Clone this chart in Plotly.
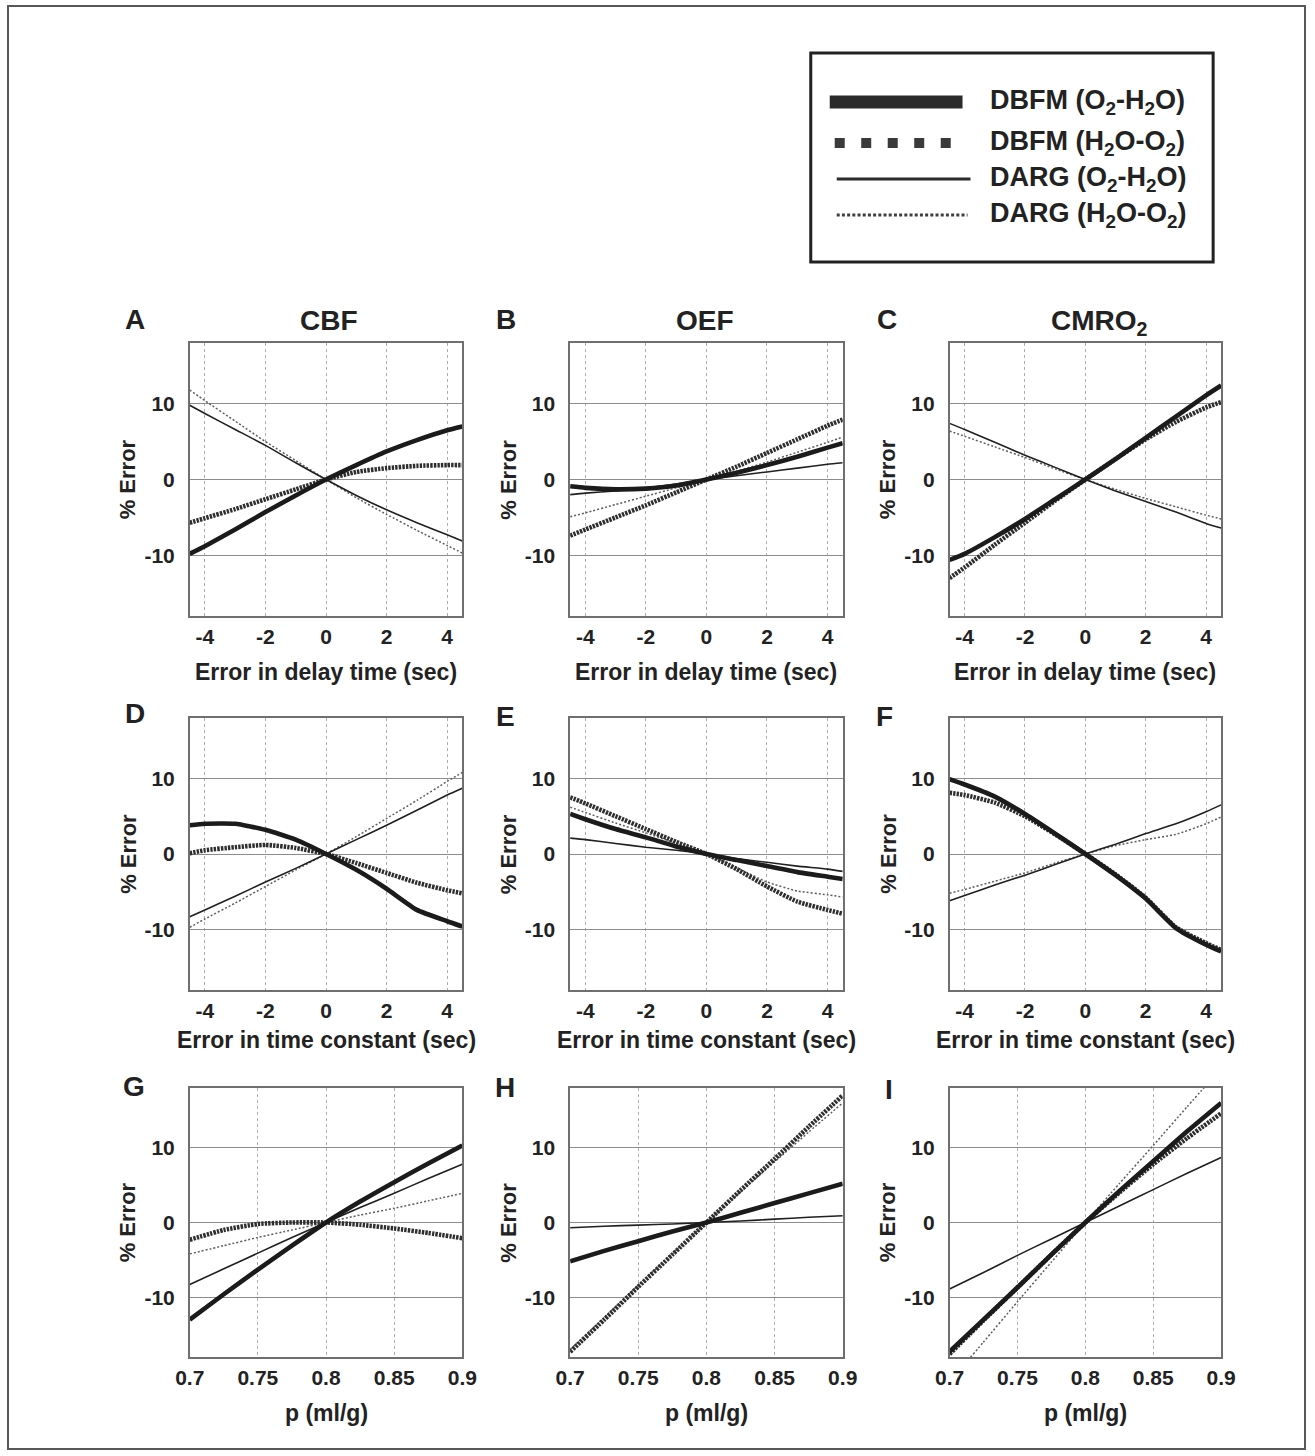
import plotly.graph_objects as go

# ---- x values -------------------------------------------------------------
delay_err = [-4.5, -4, -3, -2, -1, 0, 1, 2, 3, 4, 4.5]      # sec
tconst_err = [-4.5, -4, -3, -2, -1, 0, 1, 2, 3, 4, 4.5]     # sec
p_vals = [0.7, 0.725, 0.75, 0.775, 0.8, 0.825, 0.85, 0.875, 0.9]  # ml/g

# ---- % error, row 1: error in delay time ----------------------------------
cbf_delay_dbfm_o2h2o = [-9.8, -8.8, -6.6, -4.3, -2.1, 0, 1.9, 3.7, 5.2, 6.5, 7.0]
cbf_delay_dbfm_h2oo2 = [-5.7, -5.1, -3.9, -2.6, -1.3, 0, 1.0, 1.5, 1.8, 1.9, 1.9]
cbf_delay_darg_o2h2o = [9.8, 8.7, 6.6, 4.5, 2.2, 0, -2.1, -4.0, -5.7, -7.3, -8.1]
cbf_delay_darg_h2oo2 = [11.8, 10.4, 7.7, 5.0, 2.5, 0, -2.4, -4.6, -6.7, -8.7, -9.7]

oef_delay_dbfm_o2h2o = [-0.9, -1.1, -1.3, -1.2, -0.8, 0, 0.9, 1.9, 3.0, 4.2, 4.8]
oef_delay_dbfm_h2oo2 = [-7.4, -6.6, -5.0, -3.4, -1.7, 0, 1.7, 3.5, 5.3, 7.1, 7.9]
oef_delay_darg_o2h2o = [-2.0, -1.8, -1.5, -1.1, -0.6, 0, 0.5, 1.0, 1.5, 2.0, 2.2]
oef_delay_darg_h2oo2 = [-4.9, -4.4, -3.3, -2.2, -1.1, 0, 1.1, 2.3, 3.6, 4.9, 5.6]

cmr_delay_dbfm_o2h2o = [-10.6, -9.8, -7.6, -5.2, -2.6, 0, 2.7, 5.5, 8.3, 11.1, 12.4]
cmr_delay_dbfm_h2oo2 = [-13.0, -11.6, -8.6, -5.7, -2.8, 0, 2.7, 5.3, 7.6, 9.5, 10.2]
cmr_delay_darg_o2h2o = [7.4, 6.6, 4.9, 3.2, 1.6, 0, -1.5, -2.9, -4.3, -5.8, -6.4]
cmr_delay_darg_h2oo2 = [6.4, 5.7, 4.3, 2.9, 1.4, 0, -1.3, -2.5, -3.6, -4.7, -5.2]

# ---- % error, row 2: error in time constant -------------------------------
cbf_tc_dbfm_o2h2o = [3.8, 4.0, 4.0, 3.2, 1.9, 0, -2.1, -4.6, -7.4, -8.9, -9.6]
cbf_tc_dbfm_h2oo2 = [0.1, 0.5, 0.9, 1.2, 0.8, 0, -1.2, -2.5, -3.8, -4.8, -5.2]
cbf_tc_darg_o2h2o = [-8.3, -7.4, -5.6, -3.7, -1.9, 0, 1.9, 3.8, 5.8, 7.8, 8.7]
cbf_tc_darg_h2oo2 = [-9.7, -8.6, -6.5, -4.3, -2.1, 0, 2.3, 4.7, 7.1, 9.6, 10.8]

oef_tc_dbfm_o2h2o = [5.3, 4.6, 3.3, 2.2, 1.0, 0, -0.8, -1.6, -2.4, -3.0, -3.3]
oef_tc_dbfm_h2oo2 = [7.5, 6.7, 5.0, 3.3, 1.6, 0, -2.0, -4.3, -6.3, -7.4, -7.9]
oef_tc_darg_o2h2o = [2.1, 1.9, 1.4, 0.9, 0.5, 0, -0.6, -1.1, -1.6, -2.0, -2.3]
oef_tc_darg_h2oo2 = [6.2, 5.5, 4.1, 2.8, 1.4, 0, -1.8, -3.7, -4.9, -5.4, -5.7]

cmr_tc_dbfm_o2h2o = [9.9, 9.2, 7.6, 5.3, 2.7, 0, -2.8, -5.9, -9.8, -12.0, -12.9]
cmr_tc_dbfm_h2oo2 = [8.1, 7.8, 6.8, 5.0, 2.6, 0, -2.7, -5.8, -9.7, -11.8, -12.7]
cmr_tc_darg_o2h2o = [-6.2, -5.5, -4.1, -2.8, -1.4, 0, 1.3, 2.7, 4.0, 5.6, 6.5]
cmr_tc_darg_h2oo2 = [-5.2, -4.7, -3.6, -2.5, -1.2, 0, 1.1, 1.9, 2.6, 4.0, 4.9]

# ---- % error, row 3: partition coefficient p ------------------------------
cbf_p_dbfm_o2h2o = [-13.0, -9.6, -6.3, -3.1, 0, 2.8, 5.4, 7.9, 10.3]
cbf_p_dbfm_h2oo2 = [-2.3, -1.0, -0.2, 0.0, 0, -0.3, -0.8, -1.4, -2.1]
cbf_p_darg_o2h2o = [-8.3, -6.2, -4.1, -2.0, 0, 2.0, 3.9, 5.9, 7.8]
cbf_p_darg_h2oo2 = [-4.2, -3.1, -2.0, -1.0, 0, 1.0, 1.9, 2.9, 3.9]

oef_p_dbfm_o2h2o = [-5.2, -3.8, -2.5, -1.2, 0, 1.3, 2.6, 3.9, 5.2]
oef_p_dbfm_h2oo2 = [-17.3, -13.0, -8.6, -4.3, 0, 4.3, 8.5, 12.8, 17.0]
oef_p_darg_o2h2o = [-0.7, -0.5, -0.35, -0.2, 0, 0.2, 0.45, 0.7, 0.9]
oef_p_darg_h2oo2 = [-17.0, -12.7, -8.4, -4.2, 0, 4.1, 8.1, 12.1, 16.0]

cmr_p_dbfm_o2h2o = [-17.3, -13.0, -8.7, -4.3, 0, 4.2, 8.2, 12.2, 16.0]
cmr_p_dbfm_h2oo2 = [-17.6, -13.1, -8.7, -4.3, 0, 4.0, 7.8, 11.3, 14.6]
cmr_p_darg_o2h2o = [-8.9, -6.7, -4.4, -2.2, 0, 2.2, 4.4, 6.6, 8.7]
cmr_p_darg_h2oo2 = [-21.3, -16.0, -10.6, -5.3, 0, 5.2, 10.3, 15.5, 20.6]

# ---- labels ---------------------------------------------------------------
series_names = ["DBFM (O<sub>2</sub>-H<sub>2</sub>O)", "DBFM (H<sub>2</sub>O-O<sub>2</sub>)",
                "DARG (O<sub>2</sub>-H<sub>2</sub>O)", "DARG (H<sub>2</sub>O-O<sub>2</sub>)"]
column_titles = ["CBF", "OEF", "CMRO<sub>2</sub>"]
panel_letters = ["A", "B", "C", "D", "E", "F", "G", "H", "I"]
row_xtitles = ["Error in delay time (sec)", "Error in time constant (sec)", "p (ml/g)"]
y_title = "% Error"
err_ticks = [-4, -2, 0, 2, 4]
p_ticks = [0.7, 0.75, 0.8, 0.85, 0.9]
p_ticktext = ["0.7", "0.75", "0.8", "0.85", "0.9"]
y_ticks = [-10, 0, 10]

panels = [
    (delay_err, [cbf_delay_dbfm_o2h2o, cbf_delay_dbfm_h2oo2, cbf_delay_darg_o2h2o, cbf_delay_darg_h2oo2]),
    (delay_err, [oef_delay_dbfm_o2h2o, oef_delay_dbfm_h2oo2, oef_delay_darg_o2h2o, oef_delay_darg_h2oo2]),
    (delay_err, [cmr_delay_dbfm_o2h2o, cmr_delay_dbfm_h2oo2, cmr_delay_darg_o2h2o, cmr_delay_darg_h2oo2]),
    (tconst_err, [cbf_tc_dbfm_o2h2o, cbf_tc_dbfm_h2oo2, cbf_tc_darg_o2h2o, cbf_tc_darg_h2oo2]),
    (tconst_err, [oef_tc_dbfm_o2h2o, oef_tc_dbfm_h2oo2, oef_tc_darg_o2h2o, oef_tc_darg_h2oo2]),
    (tconst_err, [cmr_tc_dbfm_o2h2o, cmr_tc_dbfm_h2oo2, cmr_tc_darg_o2h2o, cmr_tc_darg_h2oo2]),
    (p_vals, [cbf_p_dbfm_o2h2o, cbf_p_dbfm_h2oo2, cbf_p_darg_o2h2o, cbf_p_darg_h2oo2]),
    (p_vals, [oef_p_dbfm_o2h2o, oef_p_dbfm_h2oo2, oef_p_darg_o2h2o, oef_p_darg_h2oo2]),
    (p_vals, [cmr_p_dbfm_o2h2o, cmr_p_dbfm_h2oo2, cmr_p_darg_o2h2o, cmr_p_darg_h2oo2]),
]

# ---- page geometry (pixels) -----------------------------------------------
W, H = 1315, 1456
X_SPREAD = 1 / 0.9787   # horizontal spread of the layout about the page centre
FONT = "Liberation Sans, Arial, Helvetica, sans-serif"
INK = "#222222"
col_px = [(189, 462), (570, 843), (950, 1222)]
row_px = [(343, 616), (718, 990), (1088, 1357)]


def fx(px):
    cx = W / 2
    return (cx + (px - cx) * X_SPREAD) / W


def fy(py):
    return 1 - py / H


# line style per series: (color, width, dash); drawn in this order
line_styles = [
    ("#1b1b1b", 4.6, "solid"),
    ("#2e2e2e", 4.6, "2.4px,1.1px"),
    ("#202020", 1.6, "solid"),
    ("#5e5e5e", 1.5, "2px,2px"),
]
draw_order = [3, 1, 2, 0]

fig = go.Figure()
layout_axes = {}
annotations = []

for k, (xs, ys) in enumerate(panels):
    r, c = divmod(k, 3)
    n = k + 1
    xa = "x" if n == 1 else f"x{n}"
    ya = "y" if n == 1 else f"y{n}"
    for s in draw_order:
        color, width, dash = line_styles[s]
        fig.add_trace(go.Scatter(
            x=xs, y=ys[s], mode="lines", name=series_names[s],
            line=dict(color=color, width=width, dash=dash, shape="spline", smoothing=0.5),
            xaxis=xa, yaxis=ya, showlegend=False, hoverinfo="skip",
        ))

    x0, x1 = col_px[c]
    y0, y1 = row_px[r]
    axis_common = dict(
        showline=True, mirror=True, linecolor="#6f6f6f", linewidth=1.5,
        zeroline=False, ticks="", showgrid=True,
        tickfont=dict(family=FONT, size=21, color=INK, weight="bold"),
    )
    if r < 2:
        xextra = dict(range=[-4.5, 4.5], tickvals=err_ticks, ticktext=[str(t) for t in err_ticks])
    else:
        xextra = dict(range=[0.7, 0.9], tickvals=p_ticks, ticktext=p_ticktext)
    layout_axes["xaxis" if n == 1 else f"xaxis{n}"] = dict(
        domain=[fx(x0), fx(x1)], anchor=ya, gridcolor="#acacac", gridwidth=1,
        griddash="dot", ticklabelstandoff=1, **xextra, **axis_common)
    layout_axes["yaxis" if n == 1 else f"yaxis{n}"] = dict(
        domain=[fy(y1), fy(y0)], anchor=xa, range=[-18, 18], tickvals=y_ticks,
        ticktext=[str(t) for t in y_ticks], gridcolor="#8c8c8c", gridwidth=1.2,
        ticklabelstandoff=9, **axis_common)

    # y-axis title
    annotations.append(dict(
        text=f"<b>{y_title}</b>", xref="paper", yref="paper",
        x=fx(x0 - 62), y=fy((y0 + y1) / 2), textangle=-90, showarrow=False,
        xanchor="center", yanchor="middle", font=dict(family=FONT, size=22, color=INK)))
    # x-axis title
    xt_off = [56, 50, 56][r]
    annotations.append(dict(
        text=f"<b>{row_xtitles[r]}</b>", xref="paper", yref="paper",
        x=fx((x0 + x1) / 2), y=fy(y1 + xt_off), showarrow=False,
        xanchor="center", yanchor="middle", font=dict(family=FONT, size=23, color=INK)))

# panel letters
letter_pos = [(134, 319), (506, 319), (887, 319),
              (134, 713), (505, 716), (885, 716),
              (133, 1086), (505, 1087), (889, 1089)]
for letter, (lx, ly) in zip(panel_letters, letter_pos):
    annotations.append(dict(
        text=f"<b>{letter}</b>", xref="paper", yref="paper", x=fx(lx), y=fy(ly),
        showarrow=False, xanchor="center", yanchor="middle",
        font=dict(family=FONT, size=28, color=INK)))

# column titles
title_pos = [(328, 320), (705, 320), (1100, 322)]
for title, (tx, ty) in zip(column_titles, title_pos):
    annotations.append(dict(
        text=f"<b>{title}</b>", xref="paper", yref="paper", x=fx(tx), y=fy(ty),
        showarrow=False, xanchor="center", yanchor="middle",
        font=dict(family=FONT, size=28, color=INK)))

# ---- legend box (drawn by hand so the line samples are long) --------------
shapes = []
shapes.append(dict(type="rect", xref="paper", yref="paper",
                   x0=fx(7), x1=fx(1306), y0=fy(1449), y1=fy(6),
                   line=dict(color="#585858", width=2)))
shapes.append(dict(type="rect", xref="paper", yref="paper",
                   x0=fx(811), x1=fx(1214), y0=fy(262), y1=fy(53),
                   line=dict(color=INK, width=3), fillcolor="white"))
legend_rows = [102, 143, 179, 215]
legend_samples = [
    (830, 963, 13, "#2b2b2b", "solid"),
    (835, 958, 10, "#3a3a3a", "10px,16.5px"),
    (837, 971, 3, "#2b2b2b", "solid"),
    (837, 968, 3, "#3f3f3f", "3px,2.2px"),
]
for (sx0, sx1, lw, col, dash), ry, name in zip(legend_samples, legend_rows, series_names):
    shapes.append(dict(type="line", xref="paper", yref="paper",
                       x0=fx(sx0), x1=fx(sx1), y0=fy(ry), y1=fy(ry),
                       line=dict(color=col, width=lw, dash=dash)))
    annotations.append(dict(
        text=f"<b>{name}</b>", xref="paper", yref="paper", x=fx(989), y=fy(ry),
        showarrow=False, xanchor="left", yanchor="middle",
        font=dict(family=FONT, size=27, color=INK)))

fig.update_layout(
    width=W, height=H, autosize=False, margin=dict(l=0, r=0, t=0, b=0),
    paper_bgcolor="white", plot_bgcolor="white",
    showlegend=False, annotations=annotations, shapes=shapes,
    font=dict(family=FONT, color=INK),
    **layout_axes,
)

fig.write_html("out.html", config={"responsive": False})
